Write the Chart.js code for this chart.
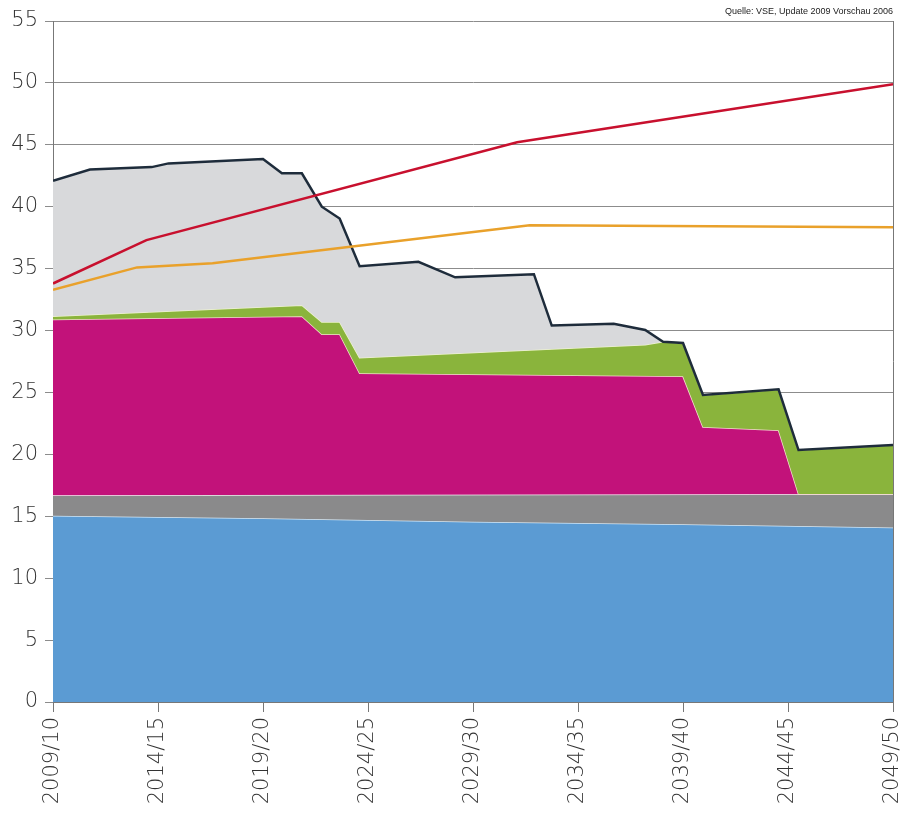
<!DOCTYPE html>
<html>
<head>
<meta charset="utf-8">
<script src="https://cdn.jsdelivr.net/npm/chart.js@4.4.1/dist/chart.umd.min.js"></script>
<style>
  html, body { margin: 0; padding: 0; background: #fff; }
  #wrap { width: 911px; height: 819px; }
</style>
</head>
<body>
<div id="wrap"><canvas id="chart" width="911" height="819"></canvas></div>
<script>
// tick labels for the x axis (one every 5 years)
var tickLabels = ['2009/10', '2014/15', '2019/20', '2024/25', '2029/30', '2034/35', '2039/40', '2044/45', '2049/50'];
var sourceText = 'Quelle: VSE, Update 2009 Vorschau 2006';

// upper edge of each band (cumulative), x = start year of the season
var blueYears = [2009, 2019, 2029, 2039, 2049];
var blueTop = [15.05, 14.85, 14.55, 14.35, 14.1];

var grayYears = [2009, 2049];
var grayTop = [16.7, 16.8];

var magentaYears = [2009, 2020.85, 2021.8, 2022.65, 2023.6, 2039, 2039.95, 2043.55, 2044.5, 2049];
var magentaTop = [30.9, 31.15, 29.7, 29.7, 26.55, 26.3, 22.2, 21.95, 16.8, 16.8];

var greenYears = [2009, 2020.85, 2021.8, 2022.65, 2023.6, 2037.2, 2038.05, 2039, 2039.95, 2043.55, 2044.5, 2049];
var greenTop = [31.15, 32.05, 30.7, 30.7, 27.8, 28.85, 29.1, 29.0, 24.8, 25.25, 20.35, 20.75];

var totalYears = [2009, 2010.76, 2013.7, 2014.5, 2019, 2019.9, 2020.85, 2021.8, 2022.65, 2023.6, 2026.4, 2028.15,
                  2031.9, 2032.75, 2035.7, 2037.2, 2038.05, 2039, 2039.95, 2043.55, 2044.5, 2049];
var totalTop = [42.1, 43.0, 43.2, 43.5, 43.85, 42.7, 42.7, 40.0, 39.05, 35.2, 35.55, 34.3,
                34.55, 30.4, 30.55, 30.05, 29.1, 29.0, 24.8, 25.25, 20.35, 20.75];

// demand lines
var redYears = [2009, 2013.45, 2031.1, 2049];
var redValues = [33.8, 37.3, 45.2, 49.9];

var orangeYears = [2009, 2013, 2016.6, 2031.7, 2049];
var orangeValues = [33.3, 35.1, 35.43, 38.5, 38.35];

function pts(xs, ys) {
    return xs.map(function (x, i) { return { x: x, y: ys[i] }; });
}

function band(data, fill, bg, border, order) {
    return {
        data: data,
        fill: fill,
        backgroundColor: bg,
        borderColor: border,
        borderWidth: 1.5,
        pointRadius: 0,
        tension: 0,
        order: order
    };
}

var font = 'DejaVu Sans';

// right frame line + source note
var extras = {
    id: 'extras',
    afterDraw: function (chart) {
        var ctx = chart.ctx;
        var a = chart.chartArea;
        ctx.save();
        ctx.strokeStyle = '#777';
        ctx.lineWidth = 1;
        ctx.beginPath();
        ctx.moveTo(a.right + 0.5, a.top);
        ctx.lineTo(a.right + 0.5, a.bottom);
        ctx.stroke();
        ctx.fillStyle = '#222';
        ctx.font = '9px "Liberation Sans", Arial, sans-serif';
        ctx.textAlign = 'right';
        ctx.textBaseline = 'alphabetic';
        ctx.fillText(sourceText, a.right, 14);
        ctx.restore();
    }
};

var ctx = document.getElementById('chart').getContext('2d');
new Chart(ctx, {
    type: 'line',
    data: {
        datasets: [
            band(pts(blueYears, blueTop), 'origin', '#5b9bd3', '#d6e8f5', 6),
            band(pts(grayYears, grayTop), '-1', '#8a8a8b', '#f2f2f2', 5),
            band(pts(magentaYears, magentaTop), '-1', '#c2127a', '#f5dcd0', 4),
            band(pts(greenYears, greenTop), '-1', '#8ab43c', '#eef3cf', 3),
            {
                data: pts(totalYears, totalTop),
                fill: '-1',
                backgroundColor: '#d8d9db',
                borderColor: '#1e2c3b',
                borderWidth: 2.5,
                pointRadius: 0,
                tension: 0,
                order: 2
            },
            {
                data: pts(redYears, redValues),
                fill: false,
                borderColor: '#c8102e',
                borderWidth: 2.5,
                pointRadius: 0,
                tension: 0,
                order: 0
            },
            {
                data: pts(orangeYears, orangeValues),
                fill: false,
                borderColor: '#e9a12b',
                borderWidth: 2.5,
                pointRadius: 0,
                tension: 0,
                order: 1
            }
        ]
    },
    options: {
        responsive: false,
        animation: false,
        events: [],
        layout: { padding: { top: 21, right: 18, left: 0, bottom: 0 } },
        plugins: {
            legend: { display: false },
            tooltip: { enabled: false }
        },
        scales: {
            x: {
                type: 'linear',
                min: 2009,
                max: 2049,
                afterFit: function (s) {
                    s.height = 117;
                    s.paddingLeft = 0;
                    s.paddingRight = 0;
                },
                grid: { drawOnChartArea: false, color: '#777', tickLength: 10 },
                border: { display: true, color: '#777' },
                ticks: {
                    stepSize: 5,
                    autoSkip: false,
                    maxRotation: 90,
                    minRotation: 90,
                    padding: 5,
                    color: '#333',
                    font: { family: font, size: 21, weight: 300 },
                    callback: function (v) { return tickLabels[Math.round((v - 2009) / 5)]; }
                }
            },
            y: {
                min: 0,
                max: 55,
                afterFit: function (s) {
                    s.width = 53;
                    s.paddingTop = 0;
                    s.paddingBottom = 0;
                },
                grid: { color: '#8c8c8c', tickLength: 8 },
                border: { display: true, color: '#777' },
                ticks: {
                    stepSize: 5,
                    padding: 7,
                    color: '#333',
                    font: { family: font, size: 21, weight: 300 }
                }
            }
        }
    },
    plugins: [extras]
});
</script>
</body>
</html>
